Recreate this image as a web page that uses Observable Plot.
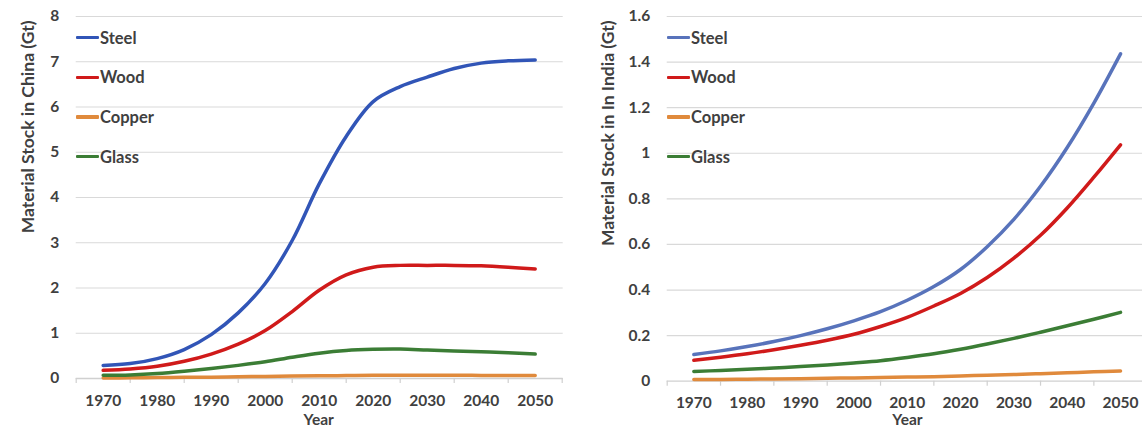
<!DOCTYPE html>
<html><head><meta charset="utf-8">
<script src="https://cdn.jsdelivr.net/npm/d3@7"></script>
<script src="https://cdn.jsdelivr.net/npm/@observablehq/plot@0.6"></script>
<style>
html,body{margin:0;padding:0;background:#fff;overflow:hidden}
#wrap{position:relative;width:1142px;height:431px;font-family:Lato,sans-serif;color:#404040}
.panel{position:absolute;top:0}
.item{position:absolute;height:20px;display:flex;align-items:center;white-space:nowrap;font-weight:700;font-size:16.5px;color:#404040}
.swatch{display:inline-block;width:23px;height:3.4px;margin-right:1px;border-radius:1px}
</style></head>
<body><div id="wrap"></div>
<script>
// ---- data ----
const years = [1970,1975,1980,1985,1990,1995,2000,2005,2010,2015,2020,2025,2030,2035,2040,2045,2050];
const seriesNames = ["Steel","Wood","Copper","Glass"];
const labelYears = [1970,1980,1990,2000,2010,2020,2030,2040,2050];
const bandEdges = [1965,1975,1985,1995,2005,2015,2025,2035,2045,2055];

const steelChina  = [0.29,0.33,0.44,0.64,0.97,1.45,2.1,3.05,4.3,5.35,6.12,6.45,6.66,6.85,6.97,7.02,7.04];
const woodChina   = [0.18,0.21,0.27,0.38,0.54,0.76,1.06,1.48,1.95,2.29,2.46,2.5,2.5,2.5,2.49,2.46,2.42];
const copperChina = [0.01,0.015,0.02,0.025,0.03,0.038,0.045,0.053,0.06,0.065,0.07,0.072,0.072,0.071,0.069,0.067,0.065];
const glassChina  = [0.07,0.08,0.11,0.16,0.22,0.29,0.37,0.47,0.56,0.62,0.645,0.65,0.63,0.61,0.59,0.57,0.54];

const steelIndia  = [0.117,0.133,0.152,0.174,0.2,0.23,0.265,0.305,0.355,0.415,0.49,0.59,0.71,0.855,1.025,1.22,1.436];
const woodIndia   = [0.092,0.105,0.12,0.138,0.158,0.18,0.206,0.24,0.28,0.33,0.385,0.455,0.54,0.64,0.76,0.895,1.037];
const copperIndia = [0.007,0.008,0.009,0.01,0.011,0.013,0.014,0.016,0.018,0.02,0.023,0.026,0.029,0.033,0.037,0.041,0.045];
const glassIndia  = [0.043,0.047,0.052,0.058,0.064,0.071,0.08,0.09,0.104,0.12,0.14,0.163,0.188,0.215,0.243,0.272,0.302];

const yTicksChina = [0,1,2,3,4,5,6,7,8];
const yTicksIndia = [0,0.2,0.4,0.6,0.8,1,1.2,1.4,1.6];

const colorsChina = ["#3155b7","#d01a1a","#e08a3c","#3b7d35"];
const colorsIndia = ["#5873bb","#d01a1a","#e08a3c","#3b7d35"];

function rowsOf(arrs){
  return seriesNames.flatMap((s,i)=>years.map((yr,j)=>({year:yr,value:arrs[i][j],series:s})));
}

function panel(o){
  return Plot.plot({
    width:571, height:431,
    marginLeft:o.ml, marginRight:o.mr, marginTop:16, marginBottom:o.mb,
    style:{fontFamily:"Lato, sans-serif", fontSize:"15.5px", fontWeight:"700", color:"#404040", background:"white"},
    x:{domain:[1965,2055], range:o.xRange},
    y:{domain:[o.yTicks[0], o.yTicks[o.yTicks.length-1]]},
    color:{domain:seriesNames, range:o.colors},
    marks:[
      Plot.gridY({ticks:o.yTicks.slice(1), stroke:"#d9d9d9", strokeOpacity:1, strokeWidth:1.2}),
      Plot.ruleY([0], {stroke:"#d0d0d0", strokeWidth:1.3}),
      Plot.axisX({ticks:bandEdges, tickSize:5, tickFormat:()=>"", stroke:"#d0d0d0", strokeOpacity:1, strokeWidth:1.2, label:null}),
      Plot.axisX({ticks:labelYears, tickSize:0, tickPadding:16, tickFormat:d=>String(d), label:null}),
      Plot.axisY({ticks:o.yTicks, tickSize:0, tickPadding:17, tickFormat:d=>String(d), label:null}),
      Plot.line(o.rows, {x:"year", y:"value", z:"series", stroke:"series", strokeWidth:3.5, curve:"catmull-rom", strokeLinecap:"round"}),
      Plot.text([o.title], {frameAnchor:"top-left", rotate:-90, textAnchor:"end", dx:o.tdx, dy:4, fontSize:17.5, fontWeight:700, fill:"#404040"}),
      Plot.text(["Year"], {frameAnchor:"bottom", dy:o.ydy, dx:o.ydx, fontSize:15.5, fontWeight:700, fill:"#404040"})
    ]
  });
}

const wrap = document.getElementById("wrap");

const left = panel({rows:rowsOf([steelChina,woodChina,copperChina,glassChina]), yTicks:yTicksChina, colors:colorsChina,
  ml:75.7, mr:8.3, mb:53, xRange:[75.7,561.7], title:"Material Stock in China (Gt)", tdx:-54.7, ydx:-1, ydy:46.5});
const right = panel({rows:rowsOf([steelIndia,woodIndia,copperIndia,glassIndia]), yTicks:yTicksIndia, colors:colorsIndia,
  ml:95.7, mr:0, mb:50.3, xRange:[95.7,575.7], title:"Material Stock in In India (Gt)", tdx:-65.7, ydx:2.6, ydy:44});

[[left,0,colorsChina,76],[right,571,colorsIndia,667-571]].forEach(([svg,x0,cols,sx])=>{
  const d = document.createElement("div");
  d.className="panel"; d.style.left=x0+"px"; d.style.width="571px"; d.style.height="431px";
  d.appendChild(svg);
  seriesNames.forEach((s,i)=>{
    const it=document.createElement("div");
    it.className="item";
    it.style.left=sx+"px";
    it.style.top=(37.7+39.7*i-10)+"px";
    const sw=document.createElement("span");
    sw.className="swatch"; sw.style.background=cols[i];
    it.appendChild(sw);
    it.appendChild(document.createTextNode(s));
    d.appendChild(it);
  });
  wrap.appendChild(d);
});
</script>
</body></html>
